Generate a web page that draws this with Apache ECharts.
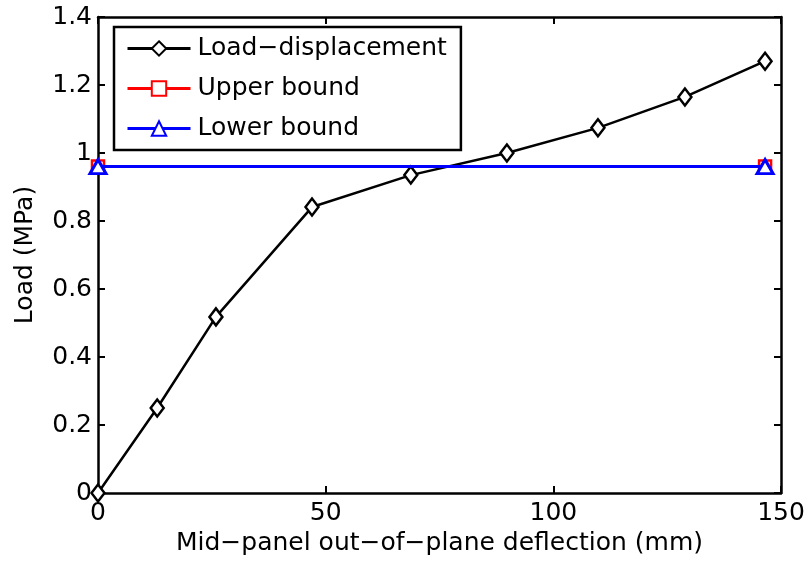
<!DOCTYPE html>
<html><head><meta charset="utf-8">
<script src="https://cdn.jsdelivr.net/npm/echarts@6/dist/echarts.min.js"></script>
<style>html,body{margin:0;padding:0;background:#fff}#c{width:811px;height:569px}</style>
</head><body><div id="c"></div>
<script>
var deflection = [0, 13.0, 25.9, 47.0, 68.7, 89.8, 109.8, 128.9, 146.5];
var load = [0, 0.25, 0.518, 0.841, 0.935, 1.0, 1.074, 1.165, 1.27];
var boundX = [0, 146.5];
var upperBound = [0.96, 0.96];
var lowerBound = [0.96, 0.96];
var xTicks = [0, 50, 100, 150];
var yTicks = [0, 0.2, 0.4, 0.6, 0.8, 1, 1.2, 1.4];

function pairs(xs, ys){ return xs.map(function(x,i){ return [x, ys[i]]; }); }
var font = 'DejaVu Sans, Liberation Sans, sans-serif';
var fs = 25;
var chart = echarts.init(document.getElementById('c'));
var axisLine = {show:true, onZero:false, lineStyle:{color:'#000', width:2.5}};
var tick = {show:true, inside:true, length:7, lineStyle:{color:'#000', width:2}};
chart.setOption({
  animation:false,
  backgroundColor:'#fff',
  grid:{left:98, right:30, top:17, bottom:76, containLabel:false},
  legend:{
    left:114, top:27, orient:'vertical',
    padding:[9,14,9,12],
    borderColor:'#000', borderWidth:2.5, backgroundColor:'#fff',
    itemWidth:63, itemHeight:18, itemGap:15,
    lineStyle:{width:3},
    textStyle:{fontFamily:font, fontSize:fs, color:'#000', padding:[0,0,0,2]},
    data:['Load\u2212displacement','Upper bound','Lower bound']
  },
  xAxis:[{
    type:'value', min:0, max:150, interval:50, position:'bottom',
    name:'Mid\u2212panel out\u2212of\u2212plane deflection (mm)', nameLocation:'middle', nameGap:34,
    nameTextStyle:{fontFamily:font, fontSize:fs, color:'#000'},
    axisLine:axisLine, axisTick:tick,
    axisLabel:{fontFamily:font, fontSize:fs, color:'#000', margin:8},
    splitLine:{show:false}
  },{
    type:'value', min:0, max:150, interval:50, position:'top',
    axisLine:axisLine, axisTick:tick, axisLabel:{show:false}, splitLine:{show:false}
  }],
  yAxis:[{
    type:'value', min:0, max:1.4, interval:0.2, position:'left',
    name:'Load (MPa)', nameLocation:'middle', nameGap:60,
    nameTextStyle:{fontFamily:font, fontSize:fs, color:'#000'},
    axisLine:axisLine, axisTick:tick,
    axisLabel:{fontFamily:font, fontSize:fs, color:'#000', margin:6,
      formatter:function(v){ return String(parseFloat(v.toFixed(1))); }},
    splitLine:{show:false}
  },{
    type:'value', min:0, max:1.4, interval:0.2, position:'right',
    axisLine:axisLine, axisTick:tick, axisLabel:{show:false}, splitLine:{show:false}
  }],
  series:[{
    name:'Load\u2212displacement', type:'line', data:pairs(deflection, load),
    symbol:'diamond', symbolSize:[13,17], showAllSymbol:true, clip:false,
    lineStyle:{color:'#000', width:2.5}, itemStyle:{color:'#fff', borderColor:'#000', borderWidth:2.5},
    z:3
  },{
    name:'Upper bound', type:'line', data:pairs(boundX, upperBound),
    symbol:'rect', symbolSize:12, clip:false,
    lineStyle:{color:'#ff0000', width:2.5}, itemStyle:{color:'#fff', borderColor:'#ff0000', borderWidth:2.5},
    z:2
  },{
    name:'Lower bound', type:'line', data:pairs(boundX, lowerBound),
    symbol:'triangle', symbolSize:[16,14], clip:false,
    lineStyle:{color:'#0000ff', width:3}, itemStyle:{color:'#fff', borderColor:'#0000ff', borderWidth:3},
    z:4
  }]
});
</script></body></html>
